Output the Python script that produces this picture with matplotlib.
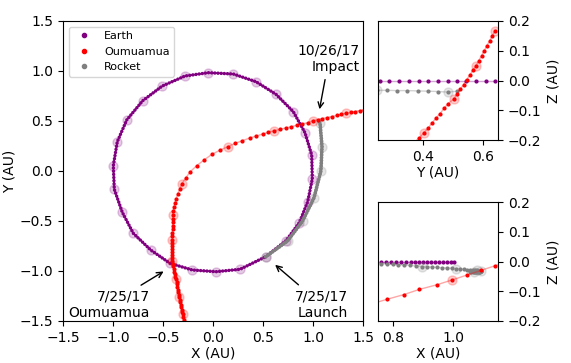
import matplotlib
matplotlib.use("Agg")
import matplotlib.pyplot as plt
from matplotlib.lines import Line2D

# Earth, every 14 days (AU)
earth_x = [0.527, 0.730, 0.863, 0.947, 0.993, 0.987, 0.920, 0.803, 0.630, 0.430, 0.203, -0.047, -0.280,
           -0.507, -0.703, -0.863, -0.957, -0.997, -0.987, -0.907, -0.797, -0.623, -0.430, -0.207, 0.030, 0.270]
earth_y = [-0.857, -0.697, -0.517, -0.307, -0.080, 0.160, 0.383, 0.593, 0.767, 0.893, 0.970, 0.983, 0.950,
           0.850, 0.703, 0.510, 0.293, 0.053, -0.183, -0.413, -0.623, -0.790, -0.923, -0.990, -1.007, -0.983]

# Rocket, every 14 days from launch, last = impact
rocket_x = [0.527, 0.745, 0.896, 1.011, 1.079, 1.090, 1.070, 1.057]
rocket_y = [-0.857, -0.700, -0.500, -0.265, 0.003, 0.243, 0.482, 0.514]

# Oumuamua, every 2 days
oum_x = [-0.291, -0.295, -0.299, -0.303, -0.308, -0.313, -0.318, -0.323, -0.327, -0.332,
         -0.337, -0.342, -0.346, -0.351, -0.356, -0.360, -0.365, -0.370, -0.376, -0.382,
         -0.388, -0.394, -0.400, -0.405, -0.410, -0.412, -0.413, -0.413, -0.412, -0.411,
         -0.409, -0.407, -0.406, -0.406, -0.405, -0.405, -0.404, -0.404, -0.403, -0.398,
         -0.390, -0.380, -0.368, -0.353, -0.333, -0.313, -0.273, -0.227, -0.163, -0.090,
         -0.010, 0.067, 0.147, 0.223, 0.293, 0.367, 0.433, 0.497, 0.553, 0.613,
         0.670, 0.727, 0.780, 0.837, 0.887, 0.947, 0.997, 1.045, 1.093, 1.141,
         1.189, 1.237, 1.284, 1.330, 1.376, 1.420, 1.465, 1.510, 1.555, 1.600, 1.645]
oum_y = [-1.512, -1.485, -1.459, -1.433, -1.409, -1.385, -1.360, -1.336, -1.311, -1.287,
         -1.263, -1.237, -1.212, -1.186, -1.160, -1.134, -1.109, -1.083, -1.057, -1.031,
         -1.005, -0.979, -0.953, -0.926, -0.900, -0.870, -0.840, -0.810, -0.780, -0.750,
         -0.720, -0.690, -0.654, -0.618, -0.583, -0.547, -0.511, -0.476, -0.440, -0.400,
         -0.360, -0.320, -0.275, -0.230, -0.183, -0.130, -0.070, -0.007, 0.053, 0.110,
         0.167, 0.207, 0.243, 0.277, 0.303, 0.330, 0.350, 0.370, 0.387, 0.403,
         0.417, 0.430, 0.443, 0.457, 0.470, 0.483, 0.503, 0.513, 0.524, 0.535,
         0.545, 0.556, 0.566, 0.577, 0.586, 0.595, 0.604, 0.613, 0.622, 0.631, 0.640]
# z of the last Oumuamua points (near impact)
oum_z = [-0.290, -0.274, -0.258, -0.242, -0.225, -0.209, -0.193, -0.176, -0.160, -0.143,
         -0.127, -0.111, -0.094, -0.078, -0.062, -0.046, -0.030, -0.014, 0.002, 0.018,
         0.034, 0.050, 0.067, 0.083, 0.100, 0.117, 0.133, 0.150, 0.167]

# top inset (Z vs Y)
ti_earth_y = [0.257, 0.288, 0.321, 0.352, 0.385, 0.416, 0.449, 0.482, 0.512, 0.543, 0.577, 0.609, 0.640]
ti_earth_z = [0.0] * len(ti_earth_y)
ti_rocket_y = [0.248, 0.281, 0.314, 0.348, 0.384, 0.418, 0.451, 0.482, 0.514]
ti_rocket_z = [-0.033, -0.033, -0.034, -0.034, -0.035, -0.036, -0.037, -0.039, -0.036]

# bottom inset (Z vs X)
bi_earth_x = [0.759, 0.776, 0.792, 0.809, 0.826, 0.843, 0.859, 0.873, 0.888, 0.901, 0.914, 0.928,
              0.941, 0.954, 0.968, 0.981, 0.993, 1.004]
bi_earth_z = [0.0] * len(bi_earth_x)
bi_rocket_x = [0.759, 0.779, 0.799, 0.818, 0.837, 0.857, 0.876, 0.896, 0.914, 0.931, 0.948, 0.964, 0.980,
               0.996, 1.011, 1.024, 1.036, 1.047, 1.057, 1.066, 1.073, 1.079, 1.084, 1.088, 1.091, 1.093,
               1.094, 1.094, 1.093, 1.091, 1.088, 1.085, 1.081, 1.077, 1.073, 1.069, 1.065, 1.061, 1.057]
bi_rocket_z = [-0.007, -0.009, -0.010, -0.011, -0.012, -0.013, -0.015, -0.017, -0.018, -0.019, -0.020,
               -0.021, -0.022, -0.023, -0.024, -0.025, -0.026, -0.027, -0.028, -0.029, -0.029, -0.030,
               -0.031, -0.031, -0.032, -0.032, -0.033, -0.033, -0.033, -0.034, -0.034, -0.034, -0.035,
               -0.035, -0.035, -0.036, -0.036, -0.036, -0.036]

c_earth, c_oum, c_rock = 'purple', 'red', 'gray'


def dots(ax, x, y, c, hl_start, hl_step=7, ms=3.0):
    ax.plot(x, y, '-', color=c, lw=1, alpha=0.35)
    ax.plot(x, y, 'o', color=c, ms=ms, mew=0)
    ax.plot(x[hl_start::hl_step], y[hl_start::hl_step], 'o', color=c, ms=6.5, alpha=0.2)


def dotline(ax, x, y, c, lw, gap):
    ax.plot(x, y, color=c, lw=1, alpha=0.35)
    ax.plot(x, y, color=c, lw=lw, ls=(0, (0.01, gap)), dash_capstyle='round')


fig = plt.figure(figsize=(5.71, 3.63), dpi=100)
ax = fig.add_axes([63 / 571, 42 / 363, 300 / 571, 300 / 363])

dotline(ax, earth_x + earth_x[:1], earth_y + earth_y[:1], c_earth, 2.5, 0.9)
ax.plot(earth_x, earth_y, 'o', color=c_earth, ms=6.5, alpha=0.2)
dotline(ax, rocket_x, rocket_y, c_rock, 2.8, 0.7)
ax.plot(rocket_x[:-1], rocket_y[:-1], 'o', color=c_rock, ms=6.5, alpha=0.2)
dots(ax, oum_x, oum_y, c_oum, 3)

ax.set_xlim(-1.5, 1.5)
ax.set_ylim(-1.5, 1.5)
ax.set_xticks([-1.5, -1.0, -0.5, 0.0, 0.5, 1.0, 1.5])
ax.set_yticks([-1.5, -1.0, -0.5, 0.0, 0.5, 1.0, 1.5])
ax.set_xlabel('X (AU)', labelpad=1)
ax.set_ylabel('Y (AU)', labelpad=2)

handles = [Line2D([], [], ls='none', marker='o', ms=3, color=c) for c in (c_earth, c_oum, c_rock)]
ax.legend(handles, ['Earth', 'Oumuamua', 'Rocket'], loc='upper left', fontsize=8)

arr = dict(arrowstyle='->', color='black', lw=1)
ax.annotate('10/26/17\nImpact', xy=(1.06, 0.59), xytext=(1.47, 1.12), ha='right', va='center',
            fontsize=10, arrowprops=arr)
ax.annotate('7/25/17\nLaunch', xy=(0.60, -0.92), xytext=(1.35, -1.335), ha='right', va='center',
            fontsize=10, arrowprops=arr)
ax.annotate('7/25/17\nOumuamua', xy=(-0.47, -0.99), xytext=(-0.63, -1.335), ha='right', va='center',
            fontsize=10, arrowprops=arr)

# top inset
n = len(oum_z)
axt = fig.add_axes([378 / 571, 223 / 363, 120 / 571, 119 / 363])
dots(axt, ti_earth_y, ti_earth_z, c_earth, 99)
dots(axt, ti_rocket_y, ti_rocket_z, c_rock, 0)
dots(axt, oum_y[-n:], oum_z, c_oum, 0)
axt.set_xlim(0.25, 0.65)
axt.set_ylim(-0.2, 0.2)
axt.set_xticks([0.4, 0.6])
axt.set_yticks([-0.2, -0.1, 0.0, 0.1, 0.2])
axt.yaxis.tick_right()
axt.yaxis.set_label_position('right')
axt.set_xlabel('Y (AU)', labelpad=1)
axt.set_ylabel('Z (AU)')

# bottom inset
axb = fig.add_axes([378 / 571, 42 / 363, 120 / 571, 119 / 363])
dots(axb, bi_earth_x, bi_earth_z, c_earth, 99)
dots(axb, bi_rocket_x, bi_rocket_z, c_rock, 7)
dots(axb, oum_x[-n:], oum_z, c_oum, 0)
axb.set_xlim(0.75, 1.15)
axb.set_ylim(-0.2, 0.2)
axb.set_xticks([0.8, 1.0])
axb.set_yticks([-0.2, -0.1, 0.0, 0.1, 0.2])
axb.yaxis.tick_right()
axb.yaxis.set_label_position('right')
axb.set_xlabel('X (AU)', labelpad=1)
axb.set_ylabel('Z (AU)')

fig.savefig('out.png', dpi=100)
